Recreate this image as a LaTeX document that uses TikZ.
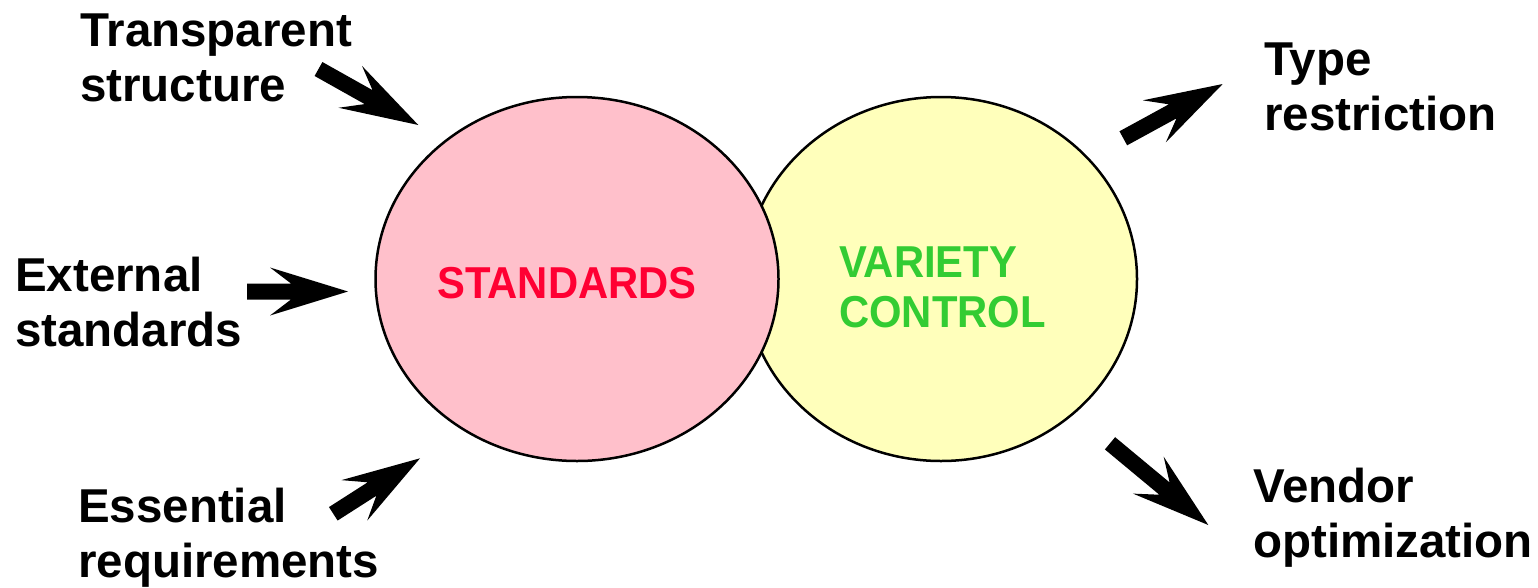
\documentclass[tikz,border=0pt]{standalone}
\usepackage{fontspec}
\setmainfont{Liberation Sans}
\newfontfamily\condfont[FakeStretch=0.935]{Liberation Sans}
\usetikzlibrary{calc,shapes.geometric}
\definecolor{pinkfill}{HTML}{FFC0CB}
\definecolor{yellowfill}{HTML}{FFFFBB}
\definecolor{stdred}{HTML}{FF0033}
\definecolor{vargreen}{HTML}{33CC33}
\tikzset{
  blob/.style={ellipse, draw=black, line width=2.5pt, inner sep=0pt},
  label/.style={anchor=base west, align=left, inner sep=0pt, font=\fontsize{47.5}{55}\selectfont\bfseries},
  inner/.style={inner sep=0pt, font=\condfont\fontsize{44.7}{50}\selectfont\bfseries},
}
\newcommand\fatarrow[2]{%
  \coordinate (fa-n) at ($(#2)!57pt!(#1)$);
  \coordinate (fa-b) at ($(#2)!78pt!(#1)$);
  \fill[black] ($(#1)!8pt!90:(#2)$) -- ($(fa-n)!8pt!90:(#2)$) -- ($(fa-b)!24pt!90:(#2)$) -- (#2)
    -- ($(fa-b)!24pt!-90:(#2)$) -- ($(fa-n)!8pt!-90:(#2)$) -- ($(#1)!8pt!-90:(#2)$) -- cycle;
}
\begin{document}
\begin{tikzpicture}[x=1pt,y=-1pt]
\useasboundingbox (0,0) rectangle (1538,587);
% circles
\node[blob, fill=yellowfill, minimum width=392pt, minimum height=364pt] (var) at (941,279) {};
\node[blob, fill=pinkfill, minimum width=403pt, minimum height=364pt] (std) at (577,279) {};
% inner texts
\node[inner, text=stdred, anchor=base] (stdtext) at (567,298) {STANDARDS};
\node[inner, text=vargreen, anchor=base west, align=left] (vartext) at (839,327) {VARIETY\\CONTROL};
% outer labels (anchor at the baseline of the last line)
\node[label] (transp) at (80,101) {Transparent\\structure};
\node[label] (extern) at (15,346) {External\\standards};
\node[label] (essent) at (78,577) {Essential\\requirements};
\node[label] (typer) at (1264,130) {Type\\restriction};
\node[label] (vendor) at (1253,557) {Vendor\\optimization};
% arrow end points
\coordinate (t1) at (318.5,69);   \coordinate (h1) at (418.3,125);
\coordinate (t2) at (247,291.5);  \coordinate (h2) at (348,291.5);
\coordinate (t3) at (333.3,513.8);\coordinate (h3) at (420,458.3);
\coordinate (t4) at (1123.3,138.3);\coordinate (h4) at (1222.7,84);
\coordinate (t5) at (1110,443.3); \coordinate (h5) at (1208.3,525);
\fatarrow{t1}{h1}
\fatarrow{t2}{h2}
\fatarrow{t3}{h3}
\fatarrow{t4}{h4}
\fatarrow{t5}{h5}
\end{tikzpicture}
\end{document}
